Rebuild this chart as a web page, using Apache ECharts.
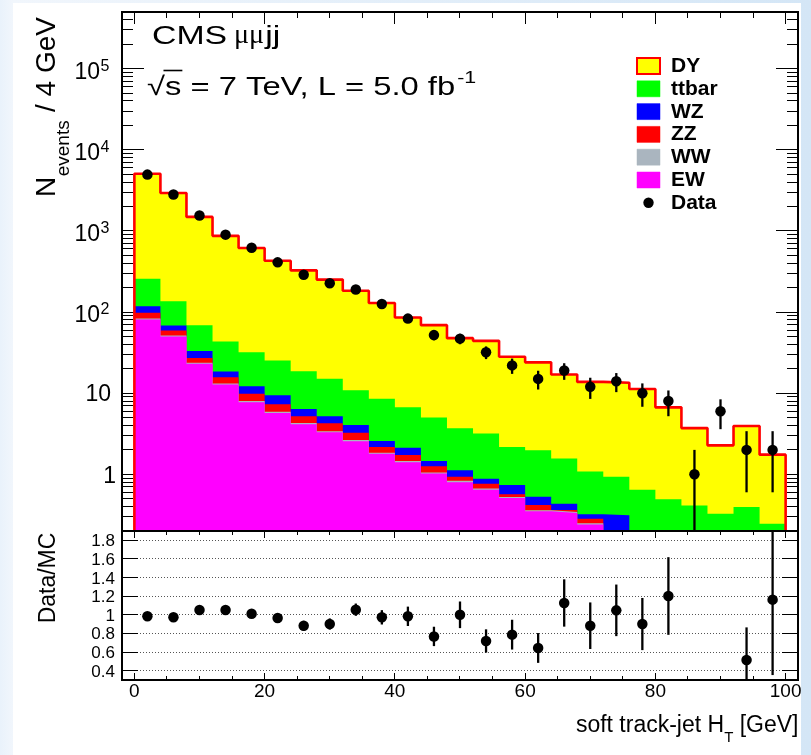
<!DOCTYPE html>
<html>
<head>
<meta charset="utf-8">
<script src="https://cdn.jsdelivr.net/npm/echarts@6/dist/echarts.min.js"></script>
<style>
  html, body { margin: 0; padding: 0; width: 811px; height: 755px; overflow: hidden;
    background: linear-gradient(to right, #e9f2fb 0px, #f1f6fc 13px, #d4e6f6 100%); }
  #sheet { position: absolute; left: 13px; top: 3px; width: 788px; height: 752px; background: #ffffff; }
  #chart { position: absolute; left: 0; top: 0; width: 811px; height: 755px; }
</style>
</head>
<body>
<div id="sheet"></div>
<div id="chart"></div>
<script>
// ---- binning: soft track-jet HT, 4 GeV bins from 0 to 100 ----
const binCenters = [2, 6, 10, 14, 18, 22, 26, 30, 34, 38, 42, 46, 50, 54, 58, 62, 66, 70, 74, 78, 82, 86, 90, 94, 98];
const BIN_WIDTH = 4;

// ---- simulated contributions per bin (events / 4 GeV) ----
const dyValues    = [4820, 2800, 1420, 827, 583, 403, 308, 236, 172, 121, 79, 64, 44, 41, 26, 22, 15.4, 12.7, 12.5, 10.6, 6.2, 3.3, 1.95, 3.55, 1.5];
const ttbarValues = [139, 67.6, 36, 24.9, 19.8, 15.9, 12.3, 9.9, 6.85, 5.98, 4.57, 3.54, 2.57, 2.29, 1.43, 1.45, 1.13, 0.76, 0.62, 0.49, 0.38, 0.33, 0.26, 0.35, 0.21];
const wzValues    = [20, 9.1, 5.9, 2.8, 2.35, 2.1, 1.2, 0.95, 0.79, 0.4, 0.4, 0.2, 0.19, 0.117, 0.173, 0.111, 0.072, 0.037, 0.148, 0.04, 0.03, 0.02, 0.02, 0.01, 0.01];
const zzValues    = [14.6, 7.8, 3.4, 2.5, 1.85, 1.4, 0.9, 0.85, 0.61, 0.32, 0.27, 0.21, 0.1, 0.1, 0.041, 0.059, 0.02, 0.035, 0.04, 0.03, 0.02, 0.015, 0.01, 0.01, 0.005];
const wwValues    = [2.4, 1.5, 0.7, 0.4, 0.25, 0.2, 0.15, 0.1, 0.1, 0.06, 0.05, 0.03, 0.03, 0.022, 0.016, 0.01, 0.01, 0.008, 0.004, 0.003, 0.002, 0.002, 0.001, 0.001, 0.001];
const ewValues    = [81, 50, 23, 12.8, 7.75, 5.7, 4.15, 3.3, 2.55, 1.79, 1.41, 1.02, 0.8, 0.645, 0.51, 0.35, 0.333, 0.241, 0.12, 0.08, 0.06, 0.045, 0.035, 0.025, 0.02];

// ---- observed data ----
const dataCounts = [4950, 2810, 1550, 900, 620, 410, 288, 226, 190, 126, 83, 52, 47, 32, 22, 15, 19, 12, 14, 10, 8, 1, 6, 2, 2];
const dataErrors = [70.4, 53, 39.4, 30, 24.9, 20.2, 17, 15, 13.8, 11.2, 9.1, 7.2, 6.9, 5.7, 4.7, 3.9, 4.4, 3.5, 3.7, 3.2, 2.8, 1.0, 2.4, 1.4, 1.4];

// ---- data / MC ratio (null: outside the displayed range) ----
const ratioValues = [0.984, 0.973, 1.052, 1.052, 1.012, 0.966, 0.883, 0.901, 1.055, 0.973, 0.984, 0.768, 1.0, 0.719, 0.787, 0.644, 1.127, 0.883, 1.048, 0.901, 1.202, null, null, 0.515, 1.163];
const ratioErrors = [0.014, 0.018, 0.027, 0.035, 0.041, 0.048, 0.052, 0.06, 0.066, 0.077, 0.104, 0.104, 0.143, 0.125, 0.16, 0.16, 0.254, 0.25, 0.277, 0.28, 0.417, null, null, 0.35, 0.81];

// ---- axis ticks and labels ----
const xMajorTicks = [0, 20, 40, 60, 80, 100];
const xTickLabels = ['0', '20', '40', '60', '80', '100'];
const xMinorTicks = [5, 10, 15, 25, 30, 35, 45, 50, 55, 65, 70, 75, 85, 90, 95];
const yDecades = [1, 10, 100, 1000, 10000, 100000];
const yDecadeLabels = [['1', ''], ['10', ''], ['10', '2'], ['10', '3'], ['10', '4'], ['10', '5']];
const ratioTicks = [0.4, 0.6, 0.8, 1.0, 1.2, 1.4, 1.6, 1.8];
const ratioTickLabels = ['0.4', '0.6', '0.8', '1', '1.2', '1.4', '1.6', '1.8'];

const legendNames = ['DY', 'ttbar', 'WZ', 'ZZ', 'WW', 'EW', 'Data'];

// ---- layout / style ----
const X_MIN = -1.9, X_MAX = 101.9;
const Y_MIN = 0.2, Y_MAX = 5e5;
const R_MIN = 0.3, R_MAX = 1.9;
const GRID_LEFT = 122, GRID_WIDTH = 676;
const MAIN_TOP = 12, MAIN_HEIGHT = 519;
const RATIO_TOP = 531, RATIO_HEIGHT = 149;
const FONT = '"Liberation Sans", Arial, Helvetica, sans-serif';
const SERIF = '"Liberation Serif", "Times New Roman", serif';
const MID = 0.35; // em offset from baseline to the canvas "middle" line

const COLORS = { DY: '#ffff00', ttbar: '#00ff00', WZ: '#0000ff', ZZ: '#ff0000', WW: '#aab5bf', EW: '#ff00ff' };

const measureCtx = document.createElement('canvas').getContext('2d');
function textWidth(str, size, family, weight) {
  measureCtx.font = (weight || 'normal') + ' ' + size + 'px ' + (family || FONT);
  return measureCtx.measureText(str).width;
}
function crisp(v) { return Math.round(v - 0.5) + 0.5; }
function seg(x1, y1, x2, y2, w, dash, color) {
  return { type: 'line', shape: { x1, y1, x2, y2 },
    style: { stroke: color || '#000', lineWidth: w || 1, lineDash: dash || null } };
}
function txt(str, x, baseline, size, align, extra) {
  const o = { type: 'text', x: x, y: baseline - MID * size,
    style: { text: str, fontSize: size, fontFamily: FONT, fill: '#000', align: align || 'left', verticalAlign: 'middle' } };
  if (extra) {
    if (extra.family) o.style.fontFamily = extra.family;
    if (extra.weight) o.style.fontWeight = extra.weight;
    if (extra.scaleX) o.scaleX = extra.scaleX;
  }
  return o;
}

// ---- stacked layers (bottom to top) ----
const layers = [
  { name: 'EW', values: ewValues },
  { name: 'WW', values: wwValues },
  { name: 'ZZ', values: zzValues },
  { name: 'WZ', values: wzValues },
  { name: 'ttbar', values: ttbarValues },
  { name: 'DY', values: dyValues }
];
let running = binCenters.map(() => 0);
layers.forEach(l => {
  running = running.map((s, i) => s + l.values[i]);
  l.top = running.slice();
});

function stepPoints(tops) {
  const lastEdge = binCenters[binCenters.length - 1] + BIN_WIDTH / 2;
  const pts = [[binCenters[0] - BIN_WIDTH / 2, Y_MIN]];
  binCenters.forEach((c, i) => pts.push([c - BIN_WIDTH / 2, tops[i]]));
  pts.push([lastEdge, tops[tops.length - 1]]);
  pts.push([lastEdge, Y_MIN]);
  return pts;
}

const series = [];

// ---- main panel ticks (under the histograms) ----
function yTickSeries(values, len, yi, xMin, xMax) {
  return { type: 'custom', xAxisIndex: yi, yAxisIndex: yi, silent: true, z: 1, animation: false,
    data: values.map(v => [xMin, v]), encode: { x: 0, y: 1 },
    renderItem: (p, api) => {
      const L = api.coord([xMin, api.value(1)]), R = api.coord([xMax, api.value(1)]);
      const y = crisp(L[1]);
      return { type: 'group', children: [seg(L[0], y, L[0] + len, y), seg(R[0] - len, y, R[0], y)] };
    } };
}
function xTickSeries(values, len, gi, yLo, yHi) {
  return { type: 'custom', xAxisIndex: gi, yAxisIndex: gi, silent: true, z: 1, animation: false,
    data: values.map(v => [v, yLo]), encode: { x: 0, y: 1 },
    renderItem: (p, api) => {
      const B = api.coord([api.value(0), yLo]), T = api.coord([api.value(0), yHi]);
      const x = crisp(B[0]);
      return { type: 'group', children: [seg(x, B[1], x, B[1] - len), seg(x, T[1], x, T[1] + len)] };
    } };
}
const yMinorTicks = [];
[0.1, 1, 10, 100, 1000, 10000, 100000].forEach(d => {
  for (let m = 2; m <= 9; m++) { const v = m * d; if (v >= Y_MIN && v <= Y_MAX) yMinorTicks.push(v); }
});
series.push(yTickSeries(yDecades, 22, 0, X_MIN, X_MAX));
series.push(yTickSeries(yMinorTicks, 11, 0, X_MIN, X_MAX));
series.push(xTickSeries(xMajorTicks, 12, 0, Y_MIN, Y_MAX));
series.push(xTickSeries(xMinorTicks, 6, 0, Y_MIN, Y_MAX));

// ---- stacked histograms, top layer first so lower layers paint over it ----
layers.slice().reverse().forEach(l => {
  const isDY = l.name === 'DY';
  series.push({
    type: 'line', name: l.name, xAxisIndex: 0, yAxisIndex: 0, z: 2, animation: false, silent: true,
    data: stepPoints(l.top), step: 'end', symbol: 'none', showSymbol: false, clip: true,
    lineStyle: { color: '#ff0000', width: isDY ? 2.6 : 0, opacity: isDY ? 1 : 0 },
    itemStyle: { color: COLORS[l.name] },
    areaStyle: { color: COLORS[l.name], opacity: 1, origin: Y_MIN }
  });
});

// ---- data points with Poisson error bars ----
series.push({
  type: 'custom', name: 'Data errors', xAxisIndex: 0, yAxisIndex: 0, z: 4, silent: true, animation: false,
  data: binCenters.map((c, i) => [c, dataCounts[i], dataErrors[i]]), encode: { x: 0, y: 1 },
  renderItem: (p, api) => {
    const x = api.value(0), v = api.value(1), e = api.value(2);
    const lo = Math.max(v - e, Y_MIN), hi = Math.min(v + e, Y_MAX);
    const a = api.coord([x, lo]), b = api.coord([x, hi]);
    return seg(a[0], a[1], b[0], b[1], 2.3);
  }
});
series.push({
  type: 'scatter', name: 'Data', xAxisIndex: 0, yAxisIndex: 0, z: 5, animation: false, silent: true,
  data: binCenters.map((c, i) => [c, dataCounts[i]]),
  symbol: 'circle', symbolSize: 10.5, itemStyle: { color: '#000', opacity: 1 }
});

// ---- main y labels (powers of ten) ----
series.push({
  type: 'custom', xAxisIndex: 0, yAxisIndex: 0, z: 6, silent: true, animation: false,
  data: yDecades.map(v => [X_MIN, v]), encode: { x: 0, y: 1 },
  renderItem: (p, api) => {
    const lab = yDecadeLabels[p.dataIndex];
    const P = api.coord([X_MIN, api.value(1)]);
    if (lab[1]) {
      return { type: 'group', children: [
        txt(lab[0], P[0] - 22, P[1] + 11.7, 23, 'right'),
        txt(lab[1], P[0] - 21.5, P[1] + 3.6, 16, 'left')
      ] };
    }
    return txt(lab[0], P[0] - (lab[0].length > 1 ? 11 : 6), P[1] + 10, 23, 'right');
  }
});

// ---- ratio panel: dotted reference lines and ticks ----
series.push({
  type: 'custom', xAxisIndex: 1, yAxisIndex: 1, z: 1, silent: true, animation: false,
  data: ratioTicks.map(v => [X_MIN, v]), encode: { x: 0, y: 1 },
  renderItem: (p, api) => {
    const L = api.coord([X_MIN, api.value(1)]), R = api.coord([X_MAX, api.value(1)]);
    const y = crisp(L[1]);
    return { type: 'group', children: [
      seg(L[0], y, R[0], y, 1, [1, 2], '#555'),
      seg(L[0], y, L[0] + 16, y), seg(R[0] - 16, y, R[0], y)
    ] };
  }
});
series.push(xTickSeries(xMajorTicks, 7, 1, R_MIN, R_MAX));
series.push(xTickSeries(xMinorTicks, 4, 1, R_MIN, R_MAX));

const ratioIdx = binCenters.map((c, i) => i).filter(i => ratioValues[i] !== null);
series.push({
  type: 'custom', name: 'Ratio errors', xAxisIndex: 1, yAxisIndex: 1, z: 4, silent: true, animation: false,
  data: ratioIdx.map(i => [binCenters[i], ratioValues[i], ratioErrors[i]]), encode: { x: 0, y: 1 },
  renderItem: (p, api) => {
    const x = api.value(0), v = api.value(1), e = api.value(2);
    const lo = Math.max(v - e, R_MIN), hi = Math.min(v + e, R_MAX);
    const a = api.coord([x, lo]), b = api.coord([x, hi]);
    return seg(a[0], a[1], b[0], b[1], 2.3);
  }
});
series.push({
  type: 'scatter', name: 'Data/MC', xAxisIndex: 1, yAxisIndex: 1, z: 5, animation: false, silent: true,
  data: ratioIdx.map(i => [binCenters[i], ratioValues[i]]),
  symbol: 'circle', symbolSize: 10.5, itemStyle: { color: '#000', opacity: 1 }
});

// ---- ratio y labels and x labels ----
series.push({
  type: 'custom', xAxisIndex: 1, yAxisIndex: 1, z: 6, silent: true, animation: false,
  data: ratioTicks.map(v => [X_MIN, v]), encode: { x: 0, y: 1 },
  renderItem: (p, api) => {
    const P = api.coord([X_MIN, api.value(1)]);
    return txt(ratioTickLabels[p.dataIndex], P[0] - 7, P[1] + 7.3, 17, 'right');
  }
});
series.push({
  type: 'custom', xAxisIndex: 1, yAxisIndex: 1, z: 6, silent: true, animation: false,
  data: xMajorTicks.map(v => [v, R_MIN]), encode: { x: 0, y: 1 },
  renderItem: (p, api) => {
    const P = api.coord([api.value(0), R_MIN]);
    return txt(xTickLabels[p.dataIndex], P[0], P[1] + 18.5, 19, 'center');
  }
});

// ---- annotations, axis titles, legend, frames ----
const graphics = [];
// frames
graphics.push({ type: 'rect', silent: true, z: 50,
  shape: { x: GRID_LEFT, y: MAIN_TOP, width: GRID_WIDTH, height: MAIN_HEIGHT },
  style: { fill: 'none', stroke: '#000', lineWidth: 2 } });
graphics.push({ type: 'rect', silent: true, z: 50,
  shape: { x: GRID_LEFT, y: RATIO_TOP, width: GRID_WIDTH, height: RATIO_HEIGHT },
  style: { fill: 'none', stroke: '#000', lineWidth: 2 } });

// "CMS μμjj"
(function () {
  const size = 26, sx = 1.3;
  const x0 = 152, base = 45.7;
  graphics.push(Object.assign(txt('CMS', x0, base, size, 'left', { scaleX: sx }), { z: 60 }));
  const muX = x0 + textWidth('CMS', size) * sx + 7;
  graphics.push(Object.assign(txt('μμ', muX, base, 28, 'left', { family: SERIF }), { z: 60 }));
  const jX = muX + textWidth('μμ', 28, SERIF) + 1;
  graphics.push(Object.assign(txt('jj', jX, base, size, 'left', { scaleX: sx }), { z: 60 }));
})();

// "√s = 7 TeV, L = 5.0 fb^-1"
(function () {
  const size = 26, sx = 1.26;
  const x0 = 147, base = 96.7;
  const main = '√s = 7 TeV, L = 5.0 fb';
  graphics.push(Object.assign(txt(main, x0, base, size, 'left', { scaleX: sx }), { z: 60 }));
  const rootEnd = x0 + textWidth('√', size) * sx;
  const sEnd = x0 + textWidth('√s', size) * sx;
  graphics.push({ type: 'line', z: 60, silent: true,
    shape: { x1: rootEnd - 1.5, y1: 70.5, x2: sEnd + 1, y2: 70.5 }, style: { stroke: '#000', lineWidth: 1.6 } });
  const supX = x0 + textWidth(main, size) * sx + 2;
  graphics.push(Object.assign(txt('-1', supX, 84.5, 17, 'left', { scaleX: sx }), { z: 60 }));
})();

// y-axis title: N_events / 4 GeV
(function () {
  const big = 28, small = 19;
  const wN = textWidth('N', big), wSub = textWidth('events', small);
  graphics.push({ type: 'group', x: 57, y: 197, rotation: Math.PI / 2, z: 60, silent: true, children: [
    txt('N', 0, 0, big, 'left'),
    txt('events', wN + 0.5, 13, small, 'left'),
    txt(' / 4 GeV', wN + wSub + 1, 0, big, 'left')
  ] });
})();

// ratio y-axis title
graphics.push({ type: 'group', x: 57, y: 578, rotation: Math.PI / 2, z: 60, silent: true, children: [
  txt('Data/MC', 0, 0, 23, 'center')
] });

// x-axis title: soft track-jet H_T [GeV]
(function () {
  const big = 23, small = 15;
  const a = 'soft track-jet H', b = 'T', c = ' [GeV]';
  const wa = textWidth(a, big), wb = textWidth(b, small), wc = textWidth(c, big);
  const right = 798.5;
  const x0 = right - (wa + wb + wc);
  graphics.push(Object.assign(txt(a, x0, 733.3, big, 'left'), { z: 60 }));
  graphics.push(Object.assign(txt(b, x0 + wa, 743.5, small, 'left'), { z: 60 }));
  graphics.push(Object.assign(txt(c, x0 + wa + wb, 733.3, big, 'left'), { z: 60 }));
})();

// legend
(function () {
  const rowStep = 22.8, firstRow = 66, boxX = 637, boxW = 23, boxH = 16, textX = 671;
  legendNames.forEach((name, i) => {
    const cy = firstRow + i * rowStep;
    if (name === 'Data') {
      graphics.push({ type: 'circle', z: 60, silent: true, shape: { cx: boxX + boxW / 2, cy: cy, r: 5.2 }, style: { fill: '#000' } });
    } else {
      graphics.push({ type: 'rect', z: 60, silent: true,
        shape: { x: boxX, y: cy - boxH / 2, width: boxW, height: boxH },
        style: { fill: COLORS[name], stroke: name === 'DY' ? '#ff0000' : COLORS[name], lineWidth: name === 'DY' ? 2 : 0.5 } });
    }
    graphics.push(Object.assign(txt(name, textX, cy + 7.6, 21, 'left', { weight: 'bold' }), { z: 60 }));
  });
})();

const chart = echarts.init(document.getElementById('chart'), null, { renderer: 'canvas' });
chart.setOption({
  backgroundColor: 'transparent',
  animation: false,
  grid: [
    { left: GRID_LEFT, top: MAIN_TOP, width: GRID_WIDTH, height: MAIN_HEIGHT, containLabel: false, outerBoundsMode: 'none' },
    { left: GRID_LEFT, top: RATIO_TOP, width: GRID_WIDTH, height: RATIO_HEIGHT, containLabel: false, outerBoundsMode: 'none' }
  ],
  xAxis: [
    { gridIndex: 0, type: 'value', min: X_MIN, max: X_MAX, show: false },
    { gridIndex: 1, type: 'value', min: X_MIN, max: X_MAX, show: false }
  ],
  yAxis: [
    { gridIndex: 0, type: 'log', logBase: 10, min: Y_MIN, max: Y_MAX, show: false },
    { gridIndex: 1, type: 'value', min: R_MIN, max: R_MAX, show: false }
  ],
  series: series,
  graphic: graphics
});
</script>
</body>
</html>
